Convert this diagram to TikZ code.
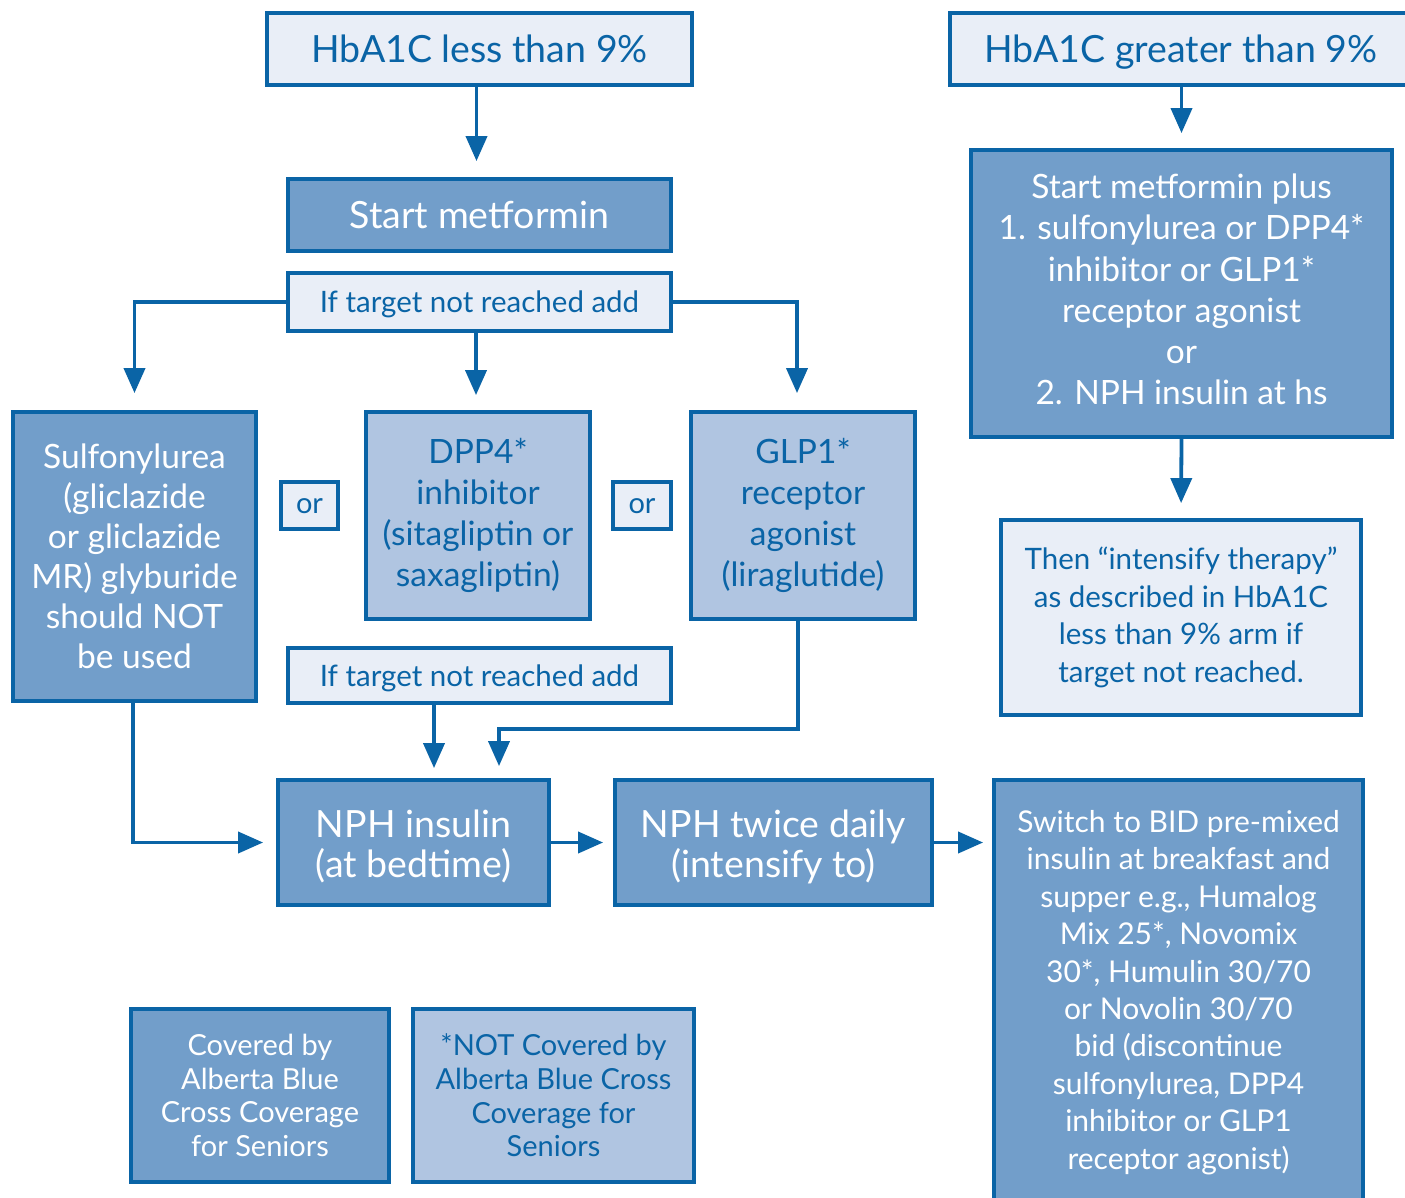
\documentclass[tikz,border=0pt]{standalone}
\usepackage{fontspec}
\setmainfont{Lato}
\usetikzlibrary{arrows.meta}
\definecolor{bordc}{HTML}{0A64A6}
\definecolor{darkf}{HTML}{729ECA}
\definecolor{lightf}{HTML}{B0C5E1}
\definecolor{palef}{HTML}{E9EEF7}
\newcommand{\fsA}{\fontsize{37.5}{40}\selectfont}
\newcommand{\fsB}{\fontsize{33.5}{41.2}\selectfont}
\newcommand{\fsBB}{\fontsize{33.5}{40}\selectfont}
\newcommand{\fsC}{\fontsize{29.5}{37.5}\selectfont}
\newcommand{\fsCC}{\fontsize{30}{37.4}\selectfont}
\newcommand{\fsD}{\fontsize{29}{33.7}\selectfont}
\newcommand{\fsE}{\fontsize{29}{30}\selectfont}
\tikzset{
  box/.style={draw=bordc, line width=3.8pt, align=center, inner sep=0pt},
  darkbox/.style={box, fill=darkf, text=white},
  lightbox/.style={box, fill=lightf, text=bordc},
  palebox/.style={box, fill=palef, text=bordc},
  capA/.style={text height=27pt, text depth=0pt},
  capC/.style={text height=21.3pt, text depth=0pt},
  xh/.style={text height=15pt, text depth=0pt},
  arr/.style={draw=bordc, line width=3.8pt, -{Triangle[width=21pt,length=25pt]}}
}
\begin{document}
\begin{tikzpicture}[x=1pt,y=-1pt]
\useasboundingbox (0,0) rectangle (1405,1198);
\clip (0,0) rectangle (1405,1198);
\fill[white] (0,0) rectangle (1405,1198);
% nodes
\node[palebox, capA, minimum width=425pt, minimum height=72pt, font=\fsA] (b1) at (479.5,49) {HbA1C less than 9\%};
\node[palebox, capA, minimum width=462pt, minimum height=72pt, font=\fsA] (b2) at (1181,49) {HbA1C greater than 9\%};
\node[darkbox, capA, minimum width=383pt, minimum height=72pt, font=\fsA] (b3) at (479.5,215) {Start metformin};
\node[palebox, capC, minimum width=383pt, minimum height=58pt, font=\fsC] (b4) at (479.5,302) {If target not reached add};
\node[darkbox, minimum width=243pt, minimum height=289pt, font=\fsBB] (b5) at (134.5,556.5) {Sulfonylurea\\(gliclazide\\or gliclazide\\MR) glyburide\\should NOT\\be used};
\node[palebox, xh, minimum width=57pt, minimum height=47pt, font=\fsE] (b6) at (309.5,505.5) {or};
\node[lightbox, minimum width=224pt, minimum height=207pt, font=\fsB] (b7) at (478,515.5) {DPP4*\\inhibitor\\(sitagliptin or\\saxagliptin)};
\node[palebox, xh, minimum width=58pt, minimum height=47pt, font=\fsE] (b8) at (642,505.5) {or};
\node[lightbox, minimum width=224pt, minimum height=207pt, font=\fsB] (b9) at (803,515.5) {GLP1*\\receptor\\agonist\\(liraglutide)};
\node[palebox, capC, minimum width=383pt, minimum height=55pt, font=\fsC] (b10) at (479.5,675.5) {If target not reached add};
\node[darkbox, minimum width=271pt, minimum height=125pt,
  label={[font=\fsA, text=white, align=center, yshift=-4pt]center:{NPH insulin\\(at bedtime)}}] (b11) at (413.5,842.5) {};
\node[darkbox, minimum width=317pt, minimum height=125pt,
  label={[font=\fsA, text=white, align=center, yshift=-4pt]center:{NPH twice daily\\(intensify to)}}] (b12) at (773.5,842.5) {};
\node[darkbox, minimum width=369pt, minimum height=425pt, font=\fsCC] (b13) at (1178.5,992.5) {Switch to BID pre-mixed\\insulin at breakfast and\\supper e.g., Humalog\\Mix 25*, Novomix\\30*, Humulin 30/70\\or Novolin 30/70\\bid (discontinue\\sulfonylurea, DPP4\\inhibitor or GLP1\\receptor agonist)};
\node[darkbox, minimum width=421pt, minimum height=287pt,
  label={[font=\fsB, text=white, align=center, yshift=4pt]center:{Start metformin plus\\1. sulfonylurea or DPP4*\\inhibitor or GLP1*\\receptor agonist\\or\\2. NPH insulin at hs}}] (b14) at (1181.5,293.5) {};
\node[palebox, minimum width=360pt, minimum height=195pt, font=\fsC] (b15) at (1181,617.5) {Then ``intensify therapy''\\as described in HbA1C\\less than 9\% arm if\\target not reached.};
\node[darkbox, minimum width=258pt, minimum height=173pt, font=\fsD] (b16) at (260,1095.5) {Covered by\\Alberta Blue\\Cross Coverage\\for Seniors};
\node[lightbox, minimum width=281pt, minimum height=173pt, font=\fsD] (b17) at (553.5,1095.5) {*NOT Covered by\\Alberta Blue Cross\\Coverage for\\Seniors};
% connectors
\draw[arr, shorten >=16pt] ([xshift=-3pt]b1.south) -- ([xshift=-3pt]b3.north);
\draw[arr, shorten >=15pt] (b2.south -| b14.north) -- (b14.north);
\draw[arr, shorten >=17pt] (b4.west) -| (b5.north);
\draw[arr, shorten >=15pt] ([xshift=-2pt]b7.north |- b4.south) -- ([xshift=-2pt]b7.north);
\draw[arr, shorten >=17pt] (b4.east) -| ([xshift=-6pt]b9.north);
\draw[arr, shorten >=15pt] (b14.south) -- (b15.north);
\draw[arr, shorten >=13pt] ([xshift=-1.5pt]b5.south) |- (b11.west);
\draw[arr, shorten >=10pt] ([xshift=-45.5pt]b10.south) -- ([xshift=20.5pt]b11.north);
\coordinate (g1) at ([yshift=-108pt]b9.south);
\draw[arr, shorten >=12pt] ([xshift=-5pt]b9.south) -- ([xshift=-5pt]g1) -| ([xshift=85.5pt]b11.north);
\draw[arr, shorten >=10pt] (b11.east) -- (b12.west);
\draw[arr, shorten >=9pt] (b12.east) -- (b12.east -| b13.west);
\end{tikzpicture}
\end{document}
